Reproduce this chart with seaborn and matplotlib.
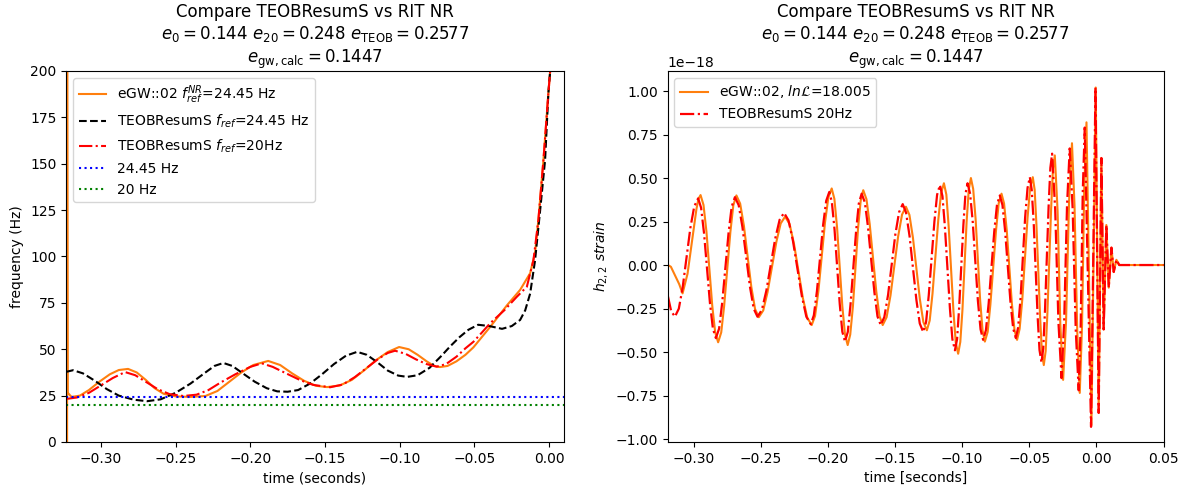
import numpy as np
import matplotlib
matplotlib.use('Agg')
import matplotlib.pyplot as plt
import seaborn as sns

# ---- left panel: instantaneous frequency (Hz) vs time (s) ----
t_nr_freq = [-0.3226, -0.3226, -0.3222, -0.3196, -0.3140, -0.3080, -0.3010, -0.2940,
             -0.2880, -0.2818, -0.2760, -0.2700, -0.2640, -0.2580, -0.2500, -0.2400,
             -0.2300, -0.2220, -0.2140, -0.2060, -0.1980, -0.1880, -0.1800, -0.1720,
             -0.1640, -0.1560, -0.1486, -0.1400, -0.1320, -0.1240, -0.1160, -0.1080,
             -0.1004, -0.0940, -0.0880, -0.0820, -0.0770, -0.0730, -0.0680, -0.0620,
             -0.0560, -0.0507, -0.0395, -0.0281, -0.0194, -0.0127, -0.0094, -0.0072,
             -0.0038, -0.0005, 0.0007, 0.0012]
f_nr = [0.0, 260.0, 26.5, 24.3, 25.0, 28.0, 32.5, 36.5,
        38.8, 39.4, 37.5, 33.5, 29.0, 26.0, 24.6, 24.3,
        24.8, 27.5, 32.5, 37.5, 41.5, 43.7, 41.5, 37.0,
        33.0, 30.3, 29.6, 30.5, 33.5, 38.5, 44.0, 48.5,
        51.2, 50.0, 47.0, 43.5, 41.0, 40.4, 41.0, 43.5,
        47.0, 51.0, 62.0, 73.8, 82.0, 91.0, 102.0, 119.6,
        152.0, 188.0, 200.0, 215.0]

t_teob_fref = [-0.3233, -0.3186, -0.3120, -0.3040, -0.2960, -0.2880, -0.2780, -0.2690,
               -0.2600, -0.2500, -0.2400, -0.2300, -0.2240, -0.2180, -0.2120, -0.2050,
               -0.1970, -0.1890, -0.1820, -0.1750, -0.1680, -0.1600, -0.1520, -0.1440,
               -0.1360, -0.1285, -0.1220, -0.1150, -0.1080, -0.1010, -0.0950, -0.0880,
               -0.0800, -0.0720, -0.0663, -0.0600, -0.0540, -0.0475, -0.0400, -0.0315,
               -0.0250, -0.0194, -0.0160, -0.0127, -0.0094, -0.0060, -0.0027, -0.0005,
               0.0007, 0.0012]
f_teob_fref = [37.8, 38.7, 37.0, 33.0, 28.5, 25.0, 22.8, 22.0,
               23.0, 26.5, 31.5, 37.5, 41.0, 42.6, 41.0, 37.0,
               32.5, 29.0, 27.3, 27.1, 28.0, 31.5, 36.5, 42.0,
               46.5, 48.6, 47.0, 43.0, 38.5, 35.8, 35.1, 36.0,
               40.0, 46.5, 51.5, 56.5, 60.5, 63.2, 62.5, 61.0,
               62.5, 65.8, 71.0, 80.0, 98.0, 125.0, 152.0, 188.0,
               200.0, 215.0]

t_teob_20 = [-0.3233, -0.3160, -0.3080, -0.3000, -0.2920, -0.2838, -0.2770, -0.2700,
             -0.2620, -0.2540, -0.2448, -0.2360, -0.2280, -0.2200, -0.2100, -0.2000,
             -0.1923, -0.1850, -0.1760, -0.1667, -0.1580, -0.1466, -0.1380, -0.1300,
             -0.1220, -0.1140, -0.1080, -0.1031, -0.0960, -0.0890, -0.0820, -0.0752,
             -0.0690, -0.0620, -0.0560, -0.0507, -0.0450, -0.0395, -0.0300, -0.0216,
             -0.0149, -0.0105, -0.0072, -0.0038, -0.0005, 0.0007, 0.0012]
f_teob_20 = [23.2, 24.0, 26.5, 30.5, 34.5, 37.7, 36.0, 32.5,
             28.5, 25.8, 24.8, 25.5, 28.0, 32.0, 36.5, 40.5,
             42.4, 40.5, 37.0, 33.4, 30.8, 29.5, 31.0, 35.0,
             40.0, 45.0, 48.0, 49.2, 47.5, 44.5, 42.0, 40.6,
             42.0, 46.0, 50.5, 54.0, 59.0, 64.0, 71.0, 78.3,
             83.7, 98.0, 119.6, 152.0, 188.0, 200.0, 215.0]

f_ref_nr = 24.45
f_ref_teob = 20.0

# ---- right panel: h22 strain (units of 1e-18) ----
t_nr_h = [-0.3192, -0.3170, -0.3145, -0.3108, -0.3083, -0.3046, -0.3010, -0.2980, -0.2965,
          -0.2949, -0.2927, -0.2905, -0.2862, -0.2840,
          -0.2818, -0.2795, -0.2773, -0.2727, -0.2705,
          -0.2682, -0.2654, -0.2626, -0.2571, -0.2543,
          -0.2515, -0.2482, -0.2450, -0.2384, -0.2352,
          -0.2319, -0.2286, -0.2253, -0.2187, -0.2154,
          -0.2121, -0.2096, -0.2071, -0.2022, -0.1997,
          -0.1972, -0.1952, -0.1932, -0.1893, -0.1873,
          -0.1853, -0.1834, -0.1814, -0.1776, -0.1756,
          -0.1737, -0.1713, -0.1689, -0.1640, -0.1616,
          -0.1592, -0.1563, -0.1534, -0.1477, -0.1448,
          -0.1419, -0.1393, -0.1367, -0.1315, -0.1289,
          -0.1263, -0.1242, -0.1221, -0.1178, -0.1157,
          -0.1136, -0.1118, -0.1101, -0.1065, -0.1048,
          -0.1030, -0.1014, -0.0998, -0.0967, -0.0951,
          -0.0935, -0.0918, -0.0900, -0.0866, -0.0848,
          -0.0831, -0.0810, -0.0790, -0.0748, -0.0728,
          -0.0707, -0.0688, -0.0668, -0.0630, -0.0610,
          -0.0591, -0.0572, -0.0552, -0.0513, -0.0494,
          -0.0474, -0.0460, -0.0447, -0.0419, -0.0406,
          -0.0392, -0.0378, -0.0365, -0.0337, -0.0324,
          -0.0310, -0.0289, -0.0269, -0.0248, -0.0226, -0.0204, -0.0182, -0.0163,
          -0.0143, -0.0124, -0.0107, -0.0091, -0.0074, -0.0037, -0.0005,
          0.0017, 0.0037, 0.0054, 0.0074, 0.0092, 0.0112, 0.0129, 0.0149,
          0.0170, 0.0500]
h_nr = [0.000, -0.010, -0.050, -0.110, -0.163, -0.050, 0.150, 0.320, 0.380,
        0.402, 0.345, 0.191, -0.233, -0.387,
        -0.444, -0.387, -0.233, 0.189, 0.343,
        0.400, 0.353, 0.225, -0.125, -0.253,
        -0.300, -0.261, -0.156, 0.134, 0.239,
        0.278, 0.236, 0.122, -0.189, -0.303,
        -0.345, -0.293, -0.149, 0.244, 0.388,
        0.440, 0.380, 0.215, -0.235, -0.400,
        -0.460, -0.400, -0.238, 0.208, 0.370,
        0.430, 0.378, 0.236, -0.151, -0.293,
        -0.345, -0.300, -0.175, 0.165, 0.290,
        0.335, 0.288, 0.158, -0.198, -0.328,
        -0.375, -0.319, -0.164, 0.259, 0.414,
        0.470, 0.405, 0.225, -0.265, -0.445,
        -0.510, -0.442, -0.258, 0.248, 0.433,
        0.500, 0.437, 0.265, -0.205, -0.377,
        -0.440, -0.384, -0.228, 0.198, 0.354,
        0.410, 0.354, 0.200, -0.220, -0.374,
        -0.430, -0.367, -0.196, 0.271, 0.442,
        0.505, 0.432, 0.235, -0.305, -0.502,
        -0.575, -0.494, -0.274, 0.329, 0.549,
        0.630, 0.308, -0.338, -0.660, -0.320, 0.360, 0.700, 0.341,
        -0.376, -0.735, -0.346, 0.431, 0.820, -0.920, 1.020,
        -0.850, 0.615, -0.370, 0.230, -0.130, 0.100, -0.040, 0.030,
        0.000, 0.000]

t_teob_h = [-0.3192, -0.3168,
            -0.3140, -0.3111, -0.3082, -0.3025, -0.2996,
            -0.2967, -0.2945, -0.2923, -0.2879, -0.2857,
            -0.2835, -0.2811, -0.2788, -0.2740, -0.2717,
            -0.2693, -0.2665, -0.2637, -0.2581, -0.2553,
            -0.2525, -0.2492, -0.2459, -0.2393, -0.2360,
            -0.2327, -0.2294, -0.2261, -0.2194, -0.2161,
            -0.2128, -0.2105, -0.2082, -0.2036, -0.2013,
            -0.1990, -0.1971, -0.1951, -0.1912, -0.1893,
            -0.1873, -0.1852, -0.1832, -0.1790, -0.1770,
            -0.1749, -0.1725, -0.1702, -0.1654, -0.1631,
            -0.1607, -0.1580, -0.1552, -0.1498, -0.1470,
            -0.1443, -0.1418, -0.1392, -0.1341, -0.1316,
            -0.1290, -0.1269, -0.1249, -0.1207, -0.1187,
            -0.1166, -0.1147, -0.1129, -0.1091, -0.1073,
            -0.1054, -0.1038, -0.1023, -0.0991, -0.0976,
            -0.0960, -0.0941, -0.0921, -0.0883, -0.0863,
            -0.0844, -0.0823, -0.0803, -0.0761, -0.0741,
            -0.0720, -0.0700, -0.0680, -0.0640, -0.0620,
            -0.0600, -0.0583, -0.0565, -0.0531, -0.0513,
            -0.0496, -0.0482, -0.0467, -0.0438, -0.0424,
            -0.0409, -0.0396, -0.0383, -0.0356, -0.0343,
            -0.0330, -0.0307, -0.0283, -0.0260, -0.0240, -0.0219, -0.0199, -0.0177,
            -0.0154, -0.0132, -0.0117, -0.0102, -0.0087, -0.0040, -0.0007,
            0.0017, 0.0037, 0.0054, 0.0074, 0.0092, 0.0112, 0.0129, 0.0149,
            0.0170, 0.0500]
h_teob = [-0.180, -0.265,
          -0.297, -0.251, -0.127, 0.213, 0.337,
          0.383, 0.329, 0.182, -0.219, -0.366,
          -0.420, -0.366, -0.218, 0.188, 0.336,
          0.390, 0.344, 0.218, -0.125, -0.251,
          -0.297, -0.257, -0.148, 0.151, 0.260,
          0.300, 0.257, 0.140, -0.180, -0.297,
          -0.340, -0.289, -0.150, 0.230, 0.369,
          0.420, 0.363, 0.205, -0.225, -0.383,
          -0.440, -0.384, -0.228, 0.198, 0.354,
          0.410, 0.360, 0.221, -0.156, -0.295,
          -0.345, -0.299, -0.171, 0.176, 0.304,
          0.350, 0.301, 0.166, -0.201, -0.336,
          -0.385, -0.328, -0.174, 0.249, 0.403,
          0.460, 0.396, 0.223, -0.253, -0.426,
          -0.490, -0.426, -0.250, 0.230, 0.406,
          0.470, 0.410, 0.245, -0.205, -0.370,
          -0.430, -0.374, -0.223, 0.193, 0.344,
          0.400, 0.345, 0.195, -0.215, -0.365,
          -0.420, -0.358, -0.189, 0.274, 0.443,
          0.505, 0.433, 0.239, -0.294, -0.488,
          -0.560, -0.479, -0.260, 0.340, 0.559,
          0.640, 0.318, -0.328, -0.650, -0.320, 0.340, 0.670, 0.323,
          -0.373, -0.720, -0.343, 0.413, 0.790, -0.930, 1.020,
          -0.850, 0.615, -0.370, 0.230, -0.130, 0.100, -0.040, 0.030,
          0.000, 0.000]

title = ('Compare TEOBResumS vs RIT NR\n'
         r'$e_0 = 0.144$ $e_{20} = 0.248$ $e_{\rm TEOB} = 0.2577$' '\n'
         r'$e_{\rm gw, calc} = 0.1447$')

fig = plt.figure(figsize=(11.88, 4.91), dpi=100)
ax1 = fig.add_axes([0.0556, 0.0998, 0.4192, 0.7556])
ax2 = fig.add_axes([0.5619, 0.0998, 0.4175, 0.7556])

# left: frequency comparison
sns.lineplot(x=t_nr_freq, y=f_nr, ax=ax1, color='C1', lw=1.5, estimator=None,
             sort=False, label=r'eGW::02 $f_{ref}^{NR}$=24.45 Hz')
sns.lineplot(x=t_teob_fref, y=f_teob_fref, ax=ax1, color='k', lw=1.5, linestyle='--',
             estimator=None, sort=False, label=r'TEOBResumS $f_{ref}$=24.45 Hz')
sns.lineplot(x=t_teob_20, y=f_teob_20, ax=ax1, color='r', lw=1.5, linestyle='-.',
             estimator=None, sort=False, label=r'TEOBResumS $f_{ref}$=20Hz')
ax1.axhline(f_ref_nr, color='b', linestyle=':', lw=1.5, label='24.45 Hz')
ax1.axhline(f_ref_teob, color='g', linestyle=':', lw=1.5, label='20 Hz')
ax1.set_xlim(-0.3233, 0.010)
ax1.set_ylim(0, 200)
ax1.set_xlabel('time (seconds)')
ax1.set_ylabel('frequency (Hz)')
ax1.set_title(title, fontsize=12)
ax1.legend(loc='upper left')

# right: strain comparison
sns.lineplot(x=t_nr_h, y=np.array(h_nr) * 1e-18, ax=ax2, color='C1', lw=1.5,
             estimator=None, sort=False, label=r'eGW::02, $ln\mathcal{L}$=18.005')
sns.lineplot(x=t_teob_h, y=np.array(h_teob) * 1e-18, ax=ax2, color='r', lw=1.6,
             linestyle='-.', estimator=None, sort=False, label='TEOBResumS 20Hz')
ax2.set_xlim(-0.3195, 0.05)
ax2.set_ylim(-1.017e-18, 1.115e-18)
ax2.set_xlabel('time [seconds]')
ax2.set_ylabel(r'$h_{2,2}\ strain$')
ax2.set_title(title, fontsize=12)
ax2.legend(loc='upper left')

fig.savefig('out.png', dpi=100)
